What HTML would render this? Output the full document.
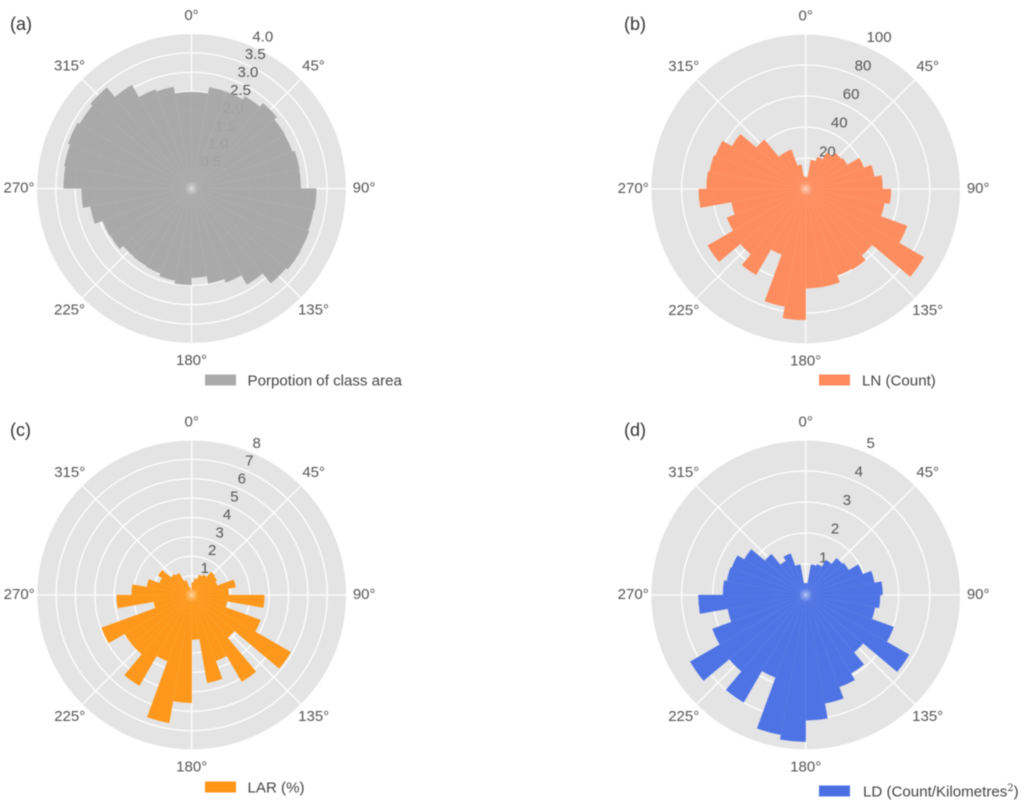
<!DOCTYPE html>
<html lang="en">
<head>
<meta charset="utf-8">
<title>Directional rose charts</title>
<style>
  html, body { margin: 0; padding: 0; background: #fff; }
  #figure { display: block; width: 1024px; height: 804px; filter: blur(0.6px); font-family: "Liberation Sans", sans-serif; }
  .tick { font-size: 15px; fill: #555; }
  .legend-text { font-size: 15.1px; fill: #444; }
  .panel-letter { font-size: 18px; fill: #333; }
</style>
</head>
<body>
<svg id="figure" xmlns="http://www.w3.org/2000/svg" width="1024" height="804" viewBox="0 0 1024 804">
  <defs>
    <radialGradient id="center-glow">
      <stop offset="0" stop-color="#ffffff" stop-opacity="0.42"/>
      <stop offset="1" stop-color="#ffffff" stop-opacity="0"/>
    </radialGradient>
  </defs>
  <g id="panel-a"></g>
  <g id="panel-b"></g>
  <g id="panel-c"></g>
  <g id="panel-d"></g>

  <text class="panel-letter" x="10" y="30">(a)</text>
  <text class="panel-letter" x="624" y="30">(b)</text>
  <text class="panel-letter" x="10" y="436">(c)</text>
  <text class="panel-letter" x="624" y="436">(d)</text>

  <g>
    <rect x="205" y="374.5" width="31" height="11" fill="#aaaaaa"/>
    <text class="legend-text" x="247.5" y="385.3">Porpotion of class area</text>
  </g>
  <g>
    <rect x="819" y="374.5" width="31" height="11" fill="#ff8a5c"/>
    <text class="legend-text" x="862" y="385.3">LN (Count)</text>
  </g>
  <g>
    <rect x="205" y="781.5" width="31" height="11" fill="#ff9517"/>
    <text class="legend-text" x="247.5" y="792.3">LAR (%)</text>
  </g>
  <g>
    <rect x="819" y="785.5" width="31" height="11" fill="#4a70e4"/>
    <text class="legend-text" x="863" y="796.3">LD (Count/Kilometres<tspan dy="-5.5" font-size="10" font-family="'DejaVu Serif', serif">2</tspan><tspan dy="5.5">)</tspan></text>
  </g>
</svg>

<script>
const binStartDegrees = [0, 10, 20, 30, 40, 50, 60, 70, 80, 90, 100, 110, 120, 130, 140, 150, 160, 170, 180, 190, 200, 210, 220, 230, 240, 250, 260, 270, 280, 290, 300, 310, 320, 330, 340, 350];
const binWidthDegrees = 10;
const angleTicks = [0, 45, 90, 135, 180, 225, 270, 315];

const classAreaValues = [2.49, 2.65, 2.65, 2.75, 2.87, 2.78, 2.77, 2.83, 2.82, 3.22, 3.2, 3.23, 3.24, 3.19, 2.86, 2.58, 2.49, 2.3, 2.49, 2.41, 2.33, 2.31, 2.3, 2.42, 2.44, 2.65, 2.84, 3.3, 3.33, 3.39, 3.33, 3.4, 3.08, 2.72, 2.66, 2.49];
const classAreaTicks = ["0.5", "1.0", "1.5", "2.0", "2.5", "3.0", "3.5", "4.0"];
const classAreaMax = 4;

const lineCountValues = [7.5, 19, 22, 27, 30, 31, 40, 45, 49.6, 55, 51.6, 69.6, 88, 56, 60, 59.5, 64, 64, 84.5, 77, 45, 64, 55, 73, 54, 48.6, 69, 64, 63, 62, 55, 41.5, 27, 27, 16, 8];
const lineCountTicks = ["20", "40", "60", "80", "100"];
const lineCountMax = 100;

const areaRatioValues = [0.65, 0.85, 1.1, 1.2, 1.55, 1.5, 1.4, 2.3, 1.9, 3.75, 1.85, 3.78, 5.9, 2.88, 5.16, 3.62, 4.6, 2.3, 5.56, 6.7, 3.63, 5.4, 4.0, 4.0, 4.95, 2.0, 3.87, 3.1, 2.35, 1.77, 2.0, 1.4, 1.3, 0.8, 0.4, 0.2];
const areaRatioTicks = ["1", "2", "3", "4", "5", "6", "7", "8"];
const areaRatioMax = 8;

const densityValues = [0.38, 1.0, 1.05, 1.3, 1.55, 1.6, 1.96, 2.25, 2.48, 2.4, 2.27, 3.02, 3.85, 2.42, 2.92, 3.16, 3.55, 4.04, 4.73, 4.58, 2.83, 4.0, 3.22, 4.3, 3.2, 2.55, 3.46, 2.67, 2.58, 2.54, 2.29, 1.72, 1.27, 1.42, 1.0, 0.38];
const densityTicks = ["1", "2", "3", "4", "5"];
const densityMax = 5;

const SVG_NS = "http://www.w3.org/2000/svg";

function polarPoint(cx, cy, radius, degrees) {
  const t = degrees * Math.PI / 180;
  return { x: cx + radius * Math.sin(t), y: cy - radius * Math.cos(t) };
}

function radialScale(maxValue, outerRadius) {
  return function (value) { return value / maxValue * outerRadius; };
}

function drawRose(groupId, cx, cy, values, ticks, maxValue, color) {
  const outerRadius = 155;
  const scale = radialScale(maxValue, outerRadius);
  const group = document.getElementById(groupId);

  const disc = document.createElementNS(SVG_NS, "circle");
  disc.setAttribute("cx", cx);
  disc.setAttribute("cy", cy);
  disc.setAttribute("r", outerRadius);
  disc.setAttribute("fill", "#e4e4e4");
  
  
  group.appendChild(disc);

  ticks.forEach(function (label) {
    const ring = document.createElementNS(SVG_NS, "circle");
    ring.setAttribute("cx", cx);
    ring.setAttribute("cy", cy);
    ring.setAttribute("r", scale(parseFloat(label)));
    ring.setAttribute("fill", "none");
    ring.setAttribute("stroke", "#ffffff");
    ring.setAttribute("stroke-width", "1.3");
    
    
    group.appendChild(ring);
  });

  angleTicks.forEach(function (angle) {
    const end = polarPoint(cx, cy, outerRadius, angle);
    const spoke = document.createElementNS(SVG_NS, "line");
    spoke.setAttribute("x1", cx);
    spoke.setAttribute("y1", cy);
    spoke.setAttribute("x2", end.x);
    spoke.setAttribute("y2", end.y);
    spoke.setAttribute("stroke", "#ffffff");
    spoke.setAttribute("stroke-width", "1.3");
    
    
    group.appendChild(spoke);
  });

  ticks.forEach(function (label) {
    const pos = polarPoint(cx, cy, scale(parseFloat(label)), 22.5);
    const radialLabel = document.createElementNS(SVG_NS, "text");
    radialLabel.setAttribute("class", "tick");
    radialLabel.setAttribute("x", pos.x + 1.5);
    radialLabel.setAttribute("y", pos.y - 4);
    radialLabel.textContent = label;
    
    
    group.appendChild(radialLabel);
  });

  const barGroup = document.createElementNS(SVG_NS, "g");
  barGroup.setAttribute("opacity", "0.94");
  
  
  group.appendChild(barGroup);

  values.forEach(function (value, i) {
    const start = binStartDegrees[i];
    const radius = scale(value);
    const a = polarPoint(cx, cy, radius, start);
    const b = polarPoint(cx, cy, radius, start + binWidthDegrees);
    const bar = document.createElementNS(SVG_NS, "path");
    bar.setAttribute("d", "M" + cx + " " + cy + "L" + a.x + " " + a.y + "A" + radius + " " + radius + " 0 0 1 " + b.x + " " + b.y + "Z");
    bar.setAttribute("fill", color);
    bar.setAttribute("stroke", color);
    bar.setAttribute("stroke-width", "0.35");
    
    
    barGroup.appendChild(bar);
  });

  values.forEach(function (value, i) {
    const previous = values[(i + values.length - 1) % values.length];
    const edge = polarPoint(cx, cy, scale(Math.min(value, previous)), binStartDegrees[i]);
    const ray = document.createElementNS(SVG_NS, "line");
    ray.setAttribute("x1", cx);
    ray.setAttribute("y1", cy);
    ray.setAttribute("x2", edge.x);
    ray.setAttribute("y2", edge.y);
    ray.setAttribute("stroke", "#ffffff");
    ray.setAttribute("stroke-width", "0.6");
    ray.setAttribute("opacity", "0.07");
    
    
    group.appendChild(ray);
  });

  const glow = document.createElementNS(SVG_NS, "circle");
  glow.setAttribute("cx", cx);
  glow.setAttribute("cy", cy);
  glow.setAttribute("r", "7");
  glow.setAttribute("fill", "url(#center-glow)");
  
  
  group.appendChild(glow);

  angleTicks.forEach(function (angle) {
    const pos = polarPoint(cx, cy, 172.5, angle);
    const angleLabel = document.createElementNS(SVG_NS, "text");
    angleLabel.setAttribute("class", "tick");
    angleLabel.setAttribute("x", pos.x);
    angleLabel.setAttribute("y", pos.y + 4);
    angleLabel.setAttribute("text-anchor", "middle");
    angleLabel.textContent = angle + "°";
    
    
    group.appendChild(angleLabel);
  });
}

drawRose("panel-a", 191.5, 188.5, classAreaValues, classAreaTicks, classAreaMax, "#a6a6a6");
drawRose("panel-b", 805.7, 189, lineCountValues, lineCountTicks, lineCountMax, "#ff8856");
drawRose("panel-c", 191.7, 595, areaRatioValues, areaRatioTicks, areaRatioMax, "#ff9410");
drawRose("panel-d", 805.7, 595, densityValues, densityTicks, densityMax, "#456ce4");
</script>
</body>
</html>
